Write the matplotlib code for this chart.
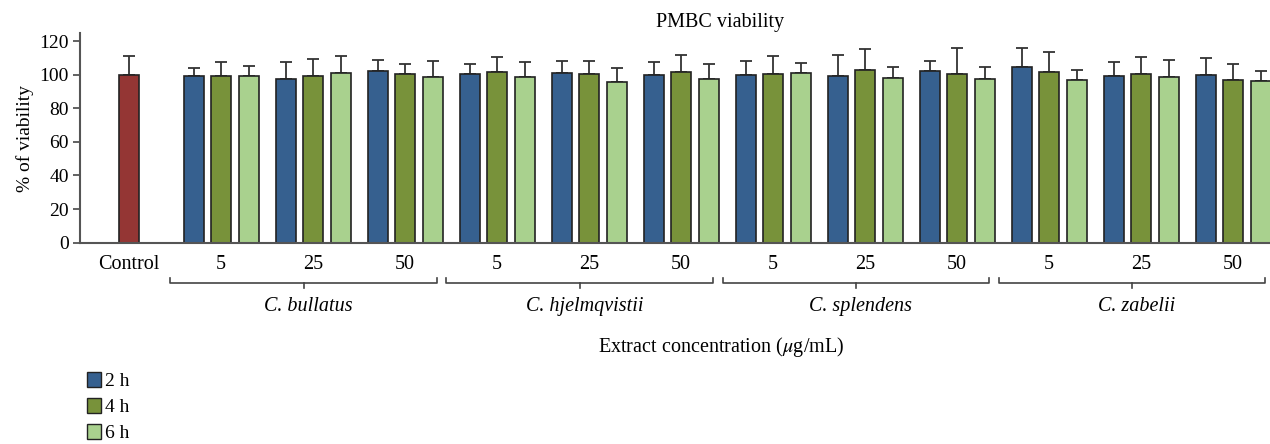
import numpy as np
import matplotlib
matplotlib.use('Agg')
import matplotlib.pyplot as plt
from matplotlib.patches import Patch

plt.rcParams['font.family'] = ['Liberation Serif', 'DejaVu Serif']
plt.rcParams['mathtext.fontset'] = 'stix'

species = ['C. bullatus', 'C. hjelmqvistii', 'C. splendens', 'C. zabelii']
concs = ['5', '25', '50']
times = ['2 h', '4 h', '6 h']

control_val = 100.0
control_err = 11.3

# rows: species x concentration, cols: 2 h, 4 h, 6 h
means = np.array([
    [99.0, 99.4, 99.2], [97.6, 99.0, 101.1], [102.1, 100.2, 98.8],
    [100.2, 101.4, 98.8], [101.1, 100.4, 95.6], [99.9, 101.5, 97.6],
    [99.9, 100.2, 100.8], [99.4, 102.7, 98.0], [102.1, 100.4, 97.4],
    [104.3, 101.7, 96.8], [99.4, 100.4, 98.8], [99.6, 96.8, 96.4],
])
tops = np.array([
    [103.9, 107.5, 105.3], [107.3, 109.5, 111.1], [108.5, 106.5, 108.3],
    [106.1, 110.7, 107.5], [108.1, 108.1, 103.9], [107.3, 111.8, 106.5],
    [108.1, 110.9, 107.1], [111.8, 115.4, 104.7], [108.3, 115.8, 104.5],
    [115.8, 113.4, 102.9], [107.3, 110.7, 108.7], [110.1, 106.1, 101.9],
])
errs = tops - means

colors = ['#36608f', '#78923a', '#a9d18e']
control_color = '#943634'

fig = plt.figure(figsize=(12.7, 4.44), dpi=100)
ax = fig.add_axes([80 / 1270, 1 - 242.7 / 444, 1 - 80 / 1270, (242.7 - 33.3) / 444])

w = 0.217
step = 0.299
ekw = dict(ecolor='#333333', elinewidth=1.3, capthick=1.3)

ax.bar(0, control_val, w, color=control_color, edgecolor='#222222', linewidth=1.2, zorder=2)
ax.errorbar(0, control_val, yerr=[[0], [control_err]], fmt='none', capsize=4.5, zorder=1, **ekw)

pos = np.arange(1, len(means) + 1)
for j in range(3):
    x = pos + (j - 1) * step
    ax.bar(x, means[:, j], w, color=colors[j], edgecolor='#222222', linewidth=1.2, zorder=2)
    ax.errorbar(x, means[:, j], yerr=[np.zeros(len(x)), errs[:, j]], fmt='none',
                capsize=4.5, zorder=1, **ekw)

ax.set_xlim(-0.533, 12.4)
ax.set_ylim(0, 124.6)
ax.set_yticks(np.arange(0, 121, 20))
ax.set_xticks(np.concatenate([[0], pos]))
ax.set_xticklabels(['Control'] + concs * len(species))
ax.tick_params(axis='x', length=0, pad=9, labelsize=14.5)
ax.tick_params(axis='y', length=5, width=1.3, color='#555555', labelsize=14, pad=3)
for s in ['top', 'right']:
    ax.spines[s].set_visible(False)
for s in ['left', 'bottom']:
    ax.spines[s].set_color('#555555')
    ax.spines[s].set_linewidth(1.5)
ax.set_ylabel('% of viability', fontsize=14, labelpad=4)

# species brackets below the tick labels
tr = ax.get_xaxis_transform()
for i, name in enumerate(species):
    x0 = 3 * i + 0.45
    x1 = 3 * i + 3.35
    xc = (x0 + x1) / 2
    ax.plot([x0, x0, x1, x1], [-0.169, -0.194, -0.194, -0.169], transform=tr,
            color='#444444', lw=1.2, clip_on=False)
    ax.plot([xc, xc], [-0.194, -0.216], transform=tr, color='#444444', lw=1.2, clip_on=False)
    ax.text(xc + 0.05, -0.306, name, transform=tr, ha='center', va='center',
            fontsize=14.5, style='italic')

fig.text(721 / 1270, 1 - 346.7 / 444, 'Extract concentration ($\\mu$g/mL)',
         ha='center', va='center', fontsize=14.5)
fig.text(720 / 1270, 1 - 22.7 / 444, 'PMBC viability', ha='center', va='center', fontsize=14.5)

handles = [Patch(facecolor=c, edgecolor='#222222', linewidth=1.0) for c in colors]
fig.legend(handles, times, loc='upper left', bbox_to_anchor=(87 / 1270, 1 - 372 / 444),
           frameon=False, fontsize=14, handlelength=0.7, handleheight=0.8,
           handletextpad=0.2, labelspacing=0.4, borderpad=0, borderaxespad=0)

fig.savefig('out.png', dpi=100)
